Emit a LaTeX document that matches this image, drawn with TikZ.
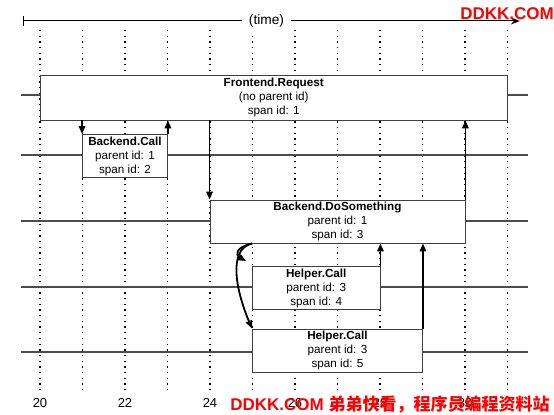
\documentclass[tikz,border=0pt]{standalone}
\usepackage{fontspec}
\setmainfont{Liberation Sans}
\newfontfamily\cjkfont{Noto Sans CJK SC}
\usetikzlibrary{arrows.meta}
\begin{document}
\begin{tikzpicture}[x=42.5pt, y=-1pt,
    span/.style={draw=black!75, line width=0.9pt, fill=white, align=center, inner sep=0pt,
      minimum height=43pt, font=\fontsize{11.7}{14}\selectfont},
    lane/.style={draw=black!70, line width=1.1pt},
    tick/.style={line width=1.3pt, dash pattern=on 1.3pt off 4.4pt},
    call/.style={line width=1.8pt, -{Triangle[length=8pt,width=6.5pt]}},
    wm/.style={text=red, font=\fontsize{17}{17}\selectfont\bfseries, inner sep=0pt}]
    \useasboundingbox (-0.941,0) rectangle (12.094,414);
    \foreach \t in {0,...,11} \draw[tick] (\t,30) -- (\t,390);
    \foreach \t/\l in {0/20,2/22,4/24,6/26,8/28,10/30}
      \node[font=\fontsize{13}{13}\selectfont] (lbl\l) at (\t,403) {\l};
    \foreach \y in {95,155,221,287,352} \draw[lane] (-0.447,\y) -- (11.48,\y);
    \coordinate (t0) at (-0.4,21);
    \coordinate (t1) at (11.29,21);
    \draw[line width=1pt, {Bar[width=10pt]}-{Stealth[length=9pt,width=7pt]}] (t0) --
      node[pos=0.49, fill=white, inner xsep=7pt, font=\fontsize{13.7}{13.7}\selectfont] (time) {(time)} (t1);
    \node[span, minimum width=467.5pt, minimum height=45pt] (fe) at (5.5,97.5) {\textbf{Frontend.Request}\\(no parent id)\\span id: 1};
    \node[span, minimum width=85pt] (bc) at (2,156) {\textbf{Backend.Call}\\parent id: 1\\span id: 2};
    \node[span, minimum width=255pt] (ds) at (7,221.5) {\textbf{Backend.DoSomething}\\parent id: 1\\span id: 3};
    \node[span, minimum width=127.5pt] (hc4) at (6.5,288) {\textbf{Helper.Call}\\parent id: 3\\span id: 4};
    \node[span, minimum width=170pt] (hc5) at (7,350.5) {\textbf{Helper.Call}\\parent id: 3\\span id: 5};
    \draw[call] (fe.south -| bc.west) -- (bc.north west);
    \draw[call] (bc.north east) -- (bc.north east |- fe.south);
    \draw[call] (fe.south -| ds.west) -- (ds.north west);
    \draw[call] (ds.north east) -- (ds.north east |- fe.south);
    \draw[call] (ds.south -| hc4.west) .. controls +(-0.4,4) and +(-0.25,-6) .. ([xshift=-6pt,yshift=5pt]hc4.north west);
    \draw[call] (ds.south -| hc5.west) .. controls +(-0.6,6) and +(-0.35,-35) .. (hc5.north west);
    \draw[call] (hc4.north east) -- (hc4.north east |- ds.south);
    \draw[call] (hc5.north east) -- (hc5.north east |- ds.south);
    \node[wm] (wmtop) at (10.99,14) {DDKK.COM};
    \node[wm] (wmbot) at (8.235,404) {DDKK.COM {\cjkfont 弟弟快看，程序员编程资料站}};
\end{tikzpicture}
\end{document}
